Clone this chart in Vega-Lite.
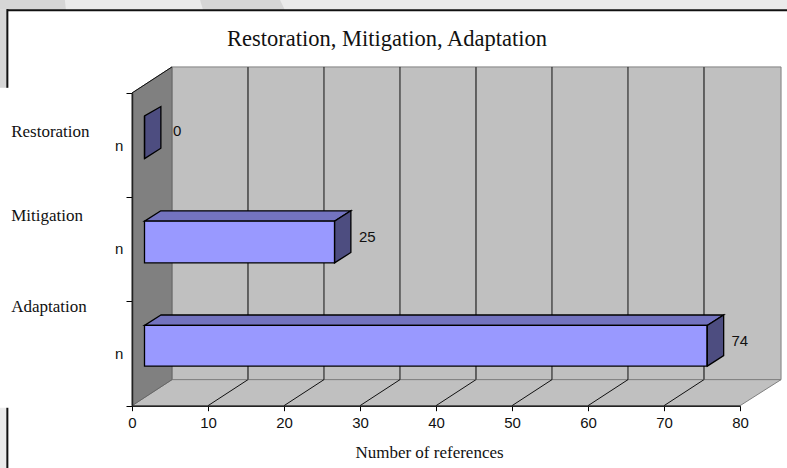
{
"$schema":"https://vega.github.io/schema/vega-lite/v6.json",
"width":608,"height":312.7,
"padding":{"left":132,"top":93,"right":47,"bottom":62.3},
"autosize":{"type":"none"},
"background":"white",
"config":{"view":{"stroke":null}},
"title":{"text":"Restoration, Mitigation, Adaptation","font":"Liberation Serif","fontSize":22.5,"fontWeight":"normal","color":"#111111","anchor":"middle","dx":-49,"offset":-51},
"datasets":{
"bars":[{"category":"Restoration","references":0,"low":2.37,"high":2.78,"mid":2.64},{"category":"Mitigation","references":25,"low":1.37,"high":1.77,"mid":1.62},{"category":"Adaptation","references":74,"low":0.38,"high":0.77,"mid":0.62}],
"pageBg":[{"part":"top","x":-17.37,"x2":86.2,"y":3.798},{"part":"top","x":-17.37,"x2":86.2,"y":3.894},{"part":"foot","x":-17.37,"x2":-16.4,"y":-0.6},{"part":"foot","x":-17.37,"x2":-16.4,"y":-0.02}],
"pageBands":[{"part":"a","x":-17.37,"x2":-8.83,"y":3.894},{"part":"a","x":-17.37,"x2":-8.7,"y":3.798},{"part":"b","x":8.95,"x2":19.47,"y":3.894},{"part":"b","x":9.34,"x2":20.1,"y":3.798},{"part":"c","x":-17.37,"x2":-16.4,"y":3.798},{"part":"c","x":-17.37,"x2":-16.4,"y":3.05}],
"border":[{"x":-16.4,"x2":86.2,"y":3.795,"y2":3.795},{"x":-16.4,"x2":-16.4,"y":3.805,"y2":3.05},{"x":-16.4,"x2":-16.4,"y":-0.02,"y2":-0.6}],
"wallsH":[{"part":"back","x":5.26,"x2":85.4,"y":0.25},{"part":"back","x":5.26,"x2":85.4,"y":3.25},{"part":"floor","x":0,"x2":80,"y":0},{"part":"floor","x":5.26,"x2":85.4,"y":0.25}],
"wallLeft":[{"x":0,"y":0,"y2":3},{"x":5.26,"y":0.25,"y2":3.25}],
"grid":[{"x":25.26,"x2":25.26,"y":0.25,"y2":3.25},{"x":35.26,"x2":35.26,"y":0.25,"y2":3.25},{"x":55.26,"x2":55.26,"y":0.25,"y2":3.25},{"x":65.26,"x2":65.26,"y":0.25,"y2":3.25},
{"x":10,"x2":15.26,"y":0,"y2":0.25},{"x":20,"x2":25.26,"y":0,"y2":0.25},{"x":30,"x2":35.26,"y":0,"y2":0.25},{"x":40,"x2":45.26,"y":0,"y2":0.25},{"x":50,"x2":55.26,"y":0,"y2":0.25},{"x":60,"x2":65.26,"y":0,"y2":0.25},{"x":70,"x2":75.26,"y":0,"y2":0.25},{"x":0,"x2":5.26,"y":3,"y2":3.25}],
"gridThick":[{"x":15.26,"x2":15.26,"y":0.25,"y2":3.25},{"x":45.26,"x2":45.26,"y":0.25,"y2":3.25},{"x":75.26,"x2":75.26,"y":0.25,"y2":3.25}],
"barTops":[{"category":"Mitigation","x":1.65,"x2":26.65,"y":1.77},{"category":"Mitigation","x":3.8,"x2":28.8,"y":1.87},{"category":"Adaptation","x":1.65,"x2":75.7,"y":0.77},{"category":"Adaptation","x":3.8,"x2":77.85,"y":0.87}],
"barSides":[{"category":"Restoration","x":1.65,"y":2.37,"y2":2.78},{"category":"Restoration","x":3.8,"y":2.47,"y2":2.87},{"category":"Mitigation","x":26.65,"y":1.37,"y2":1.77},{"category":"Mitigation","x":28.8,"y":1.47,"y2":1.87},{"category":"Adaptation","x":75.7,"y":0.38,"y2":0.77},{"category":"Adaptation","x":77.85,"y":0.48,"y2":0.87}],
"catLabels":[{"label":"Restoration","x":-15.9,"y":2.627},{"label":"Mitigation","x":-15.9,"y":1.82},{"label":"Adaptation","x":-15.9,"y":0.945}],
"nLabels":[{"label":"n","x":-1.7,"y":2.49},{"label":"n","x":-1.7,"y":1.5},{"label":"n","x":-1.7,"y":0.5}]
},
"layer":[
{"data":{"name":"pageBg"},"mark":{"type":"area","orient":"horizontal","color":"#ebebeb"},
 "encoding":{"x":{"field":"x","type":"quantitative","scale":{"domain":[0,80],"nice":false,"zero":false},
   "axis":{"values":[0,10,20,30,40,50,60,70,80],"grid":false,"zindex":1,"title":"Number of references","titleFont":"Liberation Serif","titleFontSize":17,"titleFontWeight":"normal","titleColor":"#111111","titleX":297,"titleY":39,"labelFont":"Liberation Sans","labelFontSize":15,"labelColor":"#111111","labelPadding":5,"tickColor":"#000000","tickSize":5,"domainColor":"#222222","domainWidth":1.5,"labelFlush":false,"labelOverlap":false}},
  "x2":{"field":"x2"},
  "y":{"field":"y","type":"quantitative","scale":{"domain":[0,3],"nice":false,"zero":false},
   "axis":{"values":[0,1,2,3],"grid":false,"zindex":1,"title":null,"labels":false,"tickColor":"#000000","tickSize":6,"domainColor":"#222222","domainWidth":1.5}},
  "detail":{"field":"part"}}},
{"data":{"name":"pageBands"},"mark":{"type":"area","orient":"horizontal","color":"#d6d6d6"},
 "encoding":{"x":{"field":"x","type":"quantitative"},"x2":{"field":"x2"},"y":{"field":"y","type":"quantitative"},"detail":{"field":"part"}}},
{"data":{"name":"border"},"mark":{"type":"rule","color":"#111111","strokeWidth":2},
 "encoding":{"x":{"field":"x","type":"quantitative"},"x2":{"field":"x2"},"y":{"field":"y","type":"quantitative"},"y2":{"field":"y2"}}},
{"data":{"name":"wallsH"},"mark":{"type":"area","orient":"horizontal","color":"#c0c0c0","stroke":"#808080","strokeWidth":1},
 "encoding":{"x":{"field":"x","type":"quantitative"},"x2":{"field":"x2"},"y":{"field":"y","type":"quantitative"},"detail":{"field":"part"}}},
{"data":{"name":"wallLeft"},"mark":{"type":"area","color":"#808080","stroke":"#666666","strokeWidth":1},
 "encoding":{"x":{"field":"x","type":"quantitative"},"y":{"field":"y","type":"quantitative"},"y2":{"field":"y2"}}},
{"data":{"name":"grid"},"mark":{"type":"rule","color":"#111111","strokeWidth":1},
 "encoding":{"x":{"field":"x","type":"quantitative"},"x2":{"field":"x2"},"y":{"field":"y","type":"quantitative"},"y2":{"field":"y2"}}},
{"data":{"name":"gridThick"},"mark":{"type":"rule","color":"#505050","strokeWidth":1.7},
 "encoding":{"x":{"field":"x","type":"quantitative"},"x2":{"field":"x2"},"y":{"field":"y","type":"quantitative"},"y2":{"field":"y2"}}},
{"data":{"name":"barTops"},"mark":{"type":"area","orient":"horizontal","color":"#7373bf","stroke":"#000000","strokeWidth":1.3},
 "encoding":{"x":{"field":"x","type":"quantitative"},"x2":{"field":"x2"},"y":{"field":"y","type":"quantitative"},"detail":{"field":"category"}}},
{"data":{"name":"barSides"},"mark":{"type":"area","color":"#4d4d80","stroke":"#000000","strokeWidth":1.3},
 "encoding":{"x":{"field":"x","type":"quantitative"},"y":{"field":"y","type":"quantitative"},"y2":{"field":"y2"},"detail":{"field":"category"}}},
{"data":{"name":"bars"},"mark":{"type":"rect","color":"#9999ff","stroke":"#000000","strokeWidth":1.3,"xOffset":12.5,"x2Offset":12.5},
 "encoding":{"x":{"field":"references","type":"quantitative"},"x2":{"datum":0},"y":{"field":"low","type":"quantitative"},"y2":{"field":"high"}}},
{"data":{"name":"bars"},"transform":[{"filter":"datum.references > 0"}],"mark":{"type":"text","font":"Liberation Sans","fontSize":15,"color":"#111111","align":"left","dx":37},
 "encoding":{"x":{"field":"references","type":"quantitative"},"y":{"field":"mid","type":"quantitative"},"text":{"field":"references","type":"quantitative"}}},
{"data":{"name":"bars"},"transform":[{"filter":"datum.references == 0"}],"mark":{"type":"text","font":"Liberation Sans","fontSize":15,"color":"#111111","align":"left","dx":41},
 "encoding":{"x":{"field":"references","type":"quantitative"},"y":{"field":"mid","type":"quantitative"},"text":{"field":"references","type":"quantitative"}}},
{"data":{"name":"catLabels"},"mark":{"type":"text","font":"Liberation Serif","fontSize":17,"color":"#111111","align":"left"},
 "encoding":{"x":{"field":"x","type":"quantitative"},"y":{"field":"y","type":"quantitative"},"text":{"field":"label"}}},
{"data":{"name":"nLabels"},"mark":{"type":"text","font":"Liberation Sans","fontSize":15,"color":"#111111","align":"center"},
 "encoding":{"x":{"field":"x","type":"quantitative"},"y":{"field":"y","type":"quantitative"},"text":{"field":"label"}}}
]
}
